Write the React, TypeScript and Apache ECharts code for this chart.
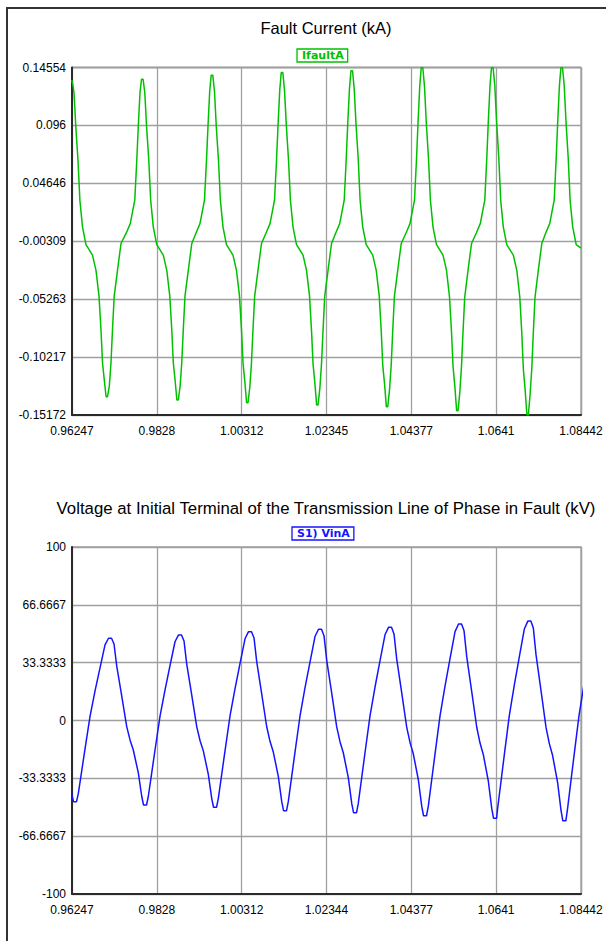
import React, { useEffect, useRef } from "react";
import * as echarts from "echarts";

// ---------- Tick labels ----------
const X_TICKS_TOP = ["0.96247", "0.9828", "1.00312", "1.02345", "1.04377", "1.0641", "1.08442"];
const X_TICKS_BOTTOM = ["0.96247", "0.9828", "1.00312", "1.02344", "1.04377", "1.0641", "1.08442"];
const Y_TICKS_TOP = ["-0.15172", "-0.10217", "-0.05263", "-0.00309", "0.04646", "0.096", "0.14554"];
const Y_TICKS_BOTTOM = ["-100", "-66.6667", "-33.3333", "0", "33.3333", "66.6667", "100"];

const X_MIN = 0.96247;
const X_MAX = 1.08442;
const Y1_MIN = -0.15172;
const Y1_MAX = 0.14554;
const Y2_MIN = -100;
const Y2_MAX = 100;

// ---------- Series: Fault current IfaultA (kA), [time s, value] ----------
const ifaultA: [number, number][] = [
  [0.9618, 0.124], [0.96216, 0.134], [0.96254, 0.134], [0.96295, 0.124], [0.96338, 0.095], [0.96391, 0.066],
  [0.96436, 0.032], [0.96499, 0.009], [0.96582, -0.006], [0.96738, -0.015], [0.96822, -0.028], [0.96894, -0.05],
  [0.96942, -0.079], [0.96978, -0.107], [0.97021, -0.122], [0.97064, -0.1361], [0.97098, -0.1361], [0.97141, -0.127],
  [0.97181, -0.107], [0.97217, -0.079], [0.97258, -0.05], [0.97337, -0.028], [0.97421, -0.005],

  [0.97548, 0.004], [0.97643, 0.012], [0.97751, 0.032], [0.97799, 0.066], [0.97835, 0.095], [0.97876, 0.124],
  [0.97912, 0.1355], [0.9795, 0.1355], [0.97991, 0.124], [0.98034, 0.095], [0.98087, 0.066], [0.98132, 0.032],
  [0.98195, 0.009], [0.98278, -0.006], [0.98434, -0.015], [0.98518, -0.028], [0.9859, -0.05], [0.98638, -0.079],
  [0.98674, -0.107], [0.98717, -0.122], [0.9876, -0.1389], [0.98794, -0.1389], [0.98837, -0.127], [0.98877, -0.107],
  [0.98913, -0.079], [0.98954, -0.05], [0.99033, -0.028], [0.99117, -0.005],

  [0.99218, 0.004], [0.99313, 0.012], [0.99421, 0.032], [0.99469, 0.066], [0.99505, 0.095], [0.99546, 0.125],
  [0.99582, 0.139], [0.9962, 0.139], [0.99661, 0.125], [0.99704, 0.095], [0.99757, 0.066], [0.99802, 0.032],
  [0.99865, 0.009], [0.99948, -0.006], [1.00104, -0.015], [1.00188, -0.028], [1.0026, -0.05], [1.00308, -0.079],
  [1.00344, -0.107], [1.00387, -0.123], [1.0043, -0.1412], [1.00464, -0.1412], [1.00507, -0.128], [1.00547, -0.107],
  [1.00583, -0.079], [1.00624, -0.05], [1.00703, -0.028], [1.00787, -0.005],

  [1.00896, 0.004], [1.00991, 0.012], [1.01099, 0.032], [1.01147, 0.066], [1.01183, 0.096], [1.01224, 0.126],
  [1.0126, 0.1412], [1.01298, 0.1412], [1.01339, 0.126], [1.01382, 0.096], [1.01435, 0.066], [1.0148, 0.032],
  [1.01543, 0.009], [1.01626, -0.006], [1.01782, -0.015], [1.01866, -0.028], [1.01938, -0.05], [1.01986, -0.08],
  [1.02022, -0.108], [1.02065, -0.124], [1.02108, -0.1432], [1.02142, -0.1432], [1.02185, -0.129], [1.02225, -0.108],
  [1.02261, -0.08], [1.02302, -0.05], [1.02381, -0.028], [1.02465, -0.005],

  [1.02566, 0.004], [1.02661, 0.012], [1.02769, 0.032], [1.02817, 0.067], [1.02853, 0.097], [1.02894, 0.127],
  [1.0293, 0.1428], [1.02968, 0.1428], [1.03009, 0.127], [1.03052, 0.097], [1.03105, 0.067], [1.0315, 0.032],
  [1.03213, 0.009], [1.03296, -0.006], [1.03452, -0.015], [1.03536, -0.028], [1.03608, -0.05], [1.03656, -0.08],
  [1.03692, -0.109], [1.03735, -0.125], [1.03778, -0.1446], [1.03812, -0.1446], [1.03855, -0.13], [1.03895, -0.109],
  [1.03931, -0.08], [1.03972, -0.05], [1.04051, -0.028], [1.04135, -0.005],

  [1.0425, 0.004], [1.04345, 0.012], [1.04453, 0.032], [1.04501, 0.067], [1.04537, 0.098], [1.04578, 0.129],
  [1.04614, 0.1455], [1.04652, 0.1455], [1.04693, 0.129], [1.04736, 0.098], [1.04789, 0.067], [1.04834, 0.032],
  [1.04897, 0.009], [1.0498, -0.006], [1.05136, -0.015], [1.0522, -0.028], [1.05292, -0.051], [1.0534, -0.081],
  [1.05376, -0.11], [1.05419, -0.127], [1.05462, -0.148], [1.05496, -0.148], [1.05539, -0.132], [1.05579, -0.11],
  [1.05615, -0.081], [1.05656, -0.051], [1.05735, -0.028], [1.05819, -0.005],

  [1.05934, 0.004], [1.06029, 0.012], [1.06137, 0.032], [1.06185, 0.068], [1.06221, 0.099], [1.06262, 0.13],
  [1.06298, 0.1455], [1.06336, 0.1455], [1.06377, 0.13], [1.0642, 0.099], [1.06473, 0.068], [1.06518, 0.032],
  [1.06581, 0.009], [1.06664, -0.006], [1.0682, -0.015], [1.06904, -0.028], [1.06976, -0.051], [1.07024, -0.082],
  [1.0706, -0.112], [1.07103, -0.13], [1.07146, -0.1517], [1.0718, -0.1517], [1.07223, -0.134], [1.07263, -0.112],
  [1.07299, -0.082], [1.0734, -0.051], [1.07419, -0.028], [1.07503, -0.005],

  [1.07597, 0.004], [1.07692, 0.012], [1.078, 0.032], [1.07848, 0.068], [1.07884, 0.099], [1.07925, 0.13],
  [1.07961, 0.1455], [1.07999, 0.1455], [1.0804, 0.13], [1.08083, 0.099], [1.08136, 0.068], [1.08181, 0.032],
  [1.08244, 0.009], [1.08327, -0.006], [1.08442, -0.009],
];

// ---------- Series: Voltage S1) VinA (kV), [time s, value] ----------
const vinA: [number, number][] = [
  [0.96158, -29.0], [0.9624, -42.1], [0.96283, -46.8], [0.96355, -46.8],

  [0.96398, -42.1], [0.9648, -29.0], [0.96559, -16.4], [0.96679, 2.4], [0.96799, 17.1], [0.96918, 30.3],
  [0.97038, 43.6], [0.97122, 47.4], [0.97194, 47.4], [0.97254, 44.1], [0.97319, 31.3], [0.97438, 14.2],
  [0.97558, -3.5], [0.97637, -11.2], [0.97716, -17.0], [0.97836, -30.2], [0.97918, -43.8], [0.97961, -48.7],
  [0.98033, -48.7],

  [0.98075, -43.8], [0.98157, -30.2], [0.98236, -17.0], [0.98356, 2.5], [0.98476, 17.7], [0.98595, 31.6],
  [0.98715, 45.4], [0.98799, 49.3], [0.98871, 49.3], [0.98931, 45.8], [0.98996, 32.5], [0.99115, 14.8],
  [0.99235, -3.5], [0.99314, -11.5], [0.99393, -17.5], [0.99513, -31.0], [0.99595, -45.0], [0.99638, -50.0],
  [0.9971, -50.0],

  [0.99752, -45.0], [0.99834, -31.0], [0.99913, -17.5], [1.00033, 2.6], [1.00153, 18.4], [1.00272, 32.8],
  [1.00392, 47.1], [1.00476, 51.2], [1.00548, 51.2], [1.00608, 47.6], [1.00673, 33.8], [1.00792, 15.4],
  [1.00912, -3.6], [1.00991, -12.0], [1.0107, -18.2], [1.0119, -32.2], [1.01272, -46.8], [1.01315, -52.0],
  [1.01387, -52.0],

  [1.01429, -46.8], [1.01511, -32.2], [1.0159, -18.2], [1.0171, 2.6], [1.0183, 18.9], [1.01949, 33.7],
  [1.02069, 48.4], [1.02153, 52.6], [1.02225, 52.6], [1.02285, 48.9], [1.0235, 34.7], [1.02469, 15.8],
  [1.02589, -3.7], [1.02668, -12.2], [1.02747, -18.6], [1.02867, -32.9], [1.02949, -47.8], [1.02992, -53.1],
  [1.03064, -53.1],

  [1.03106, -47.8], [1.03188, -32.9], [1.03267, -18.6], [1.03387, 2.7], [1.03507, 19.3], [1.03626, 34.4],
  [1.03746, 49.4], [1.0383, 53.7], [1.03902, 53.7], [1.03962, 49.9], [1.04027, 35.4], [1.04146, 16.1],
  [1.04266, -3.8], [1.04345, -12.6], [1.04424, -19.2], [1.04544, -34.0], [1.04626, -49.4], [1.04669, -54.9],
  [1.04741, -54.9],

  [1.04784, -49.4], [1.04866, -34.0], [1.04945, -19.2], [1.05065, 2.8], [1.05185, 20.0], [1.05304, 35.6],
  [1.05424, 51.2], [1.05508, 55.6], [1.0558, 55.6], [1.0564, 51.7], [1.05705, 36.7], [1.05824, 16.7],
  [1.05944, -3.9], [1.06023, -13.0], [1.06102, -19.7], [1.06222, -35.0], [1.06304, -50.8], [1.06347, -56.4],
  [1.06419, -56.4],

  [1.06444, -50.8], [1.06526, -35.0], [1.06605, -19.7], [1.06725, 2.9], [1.06845, 20.6], [1.06964, 36.7],
  [1.07084, 52.7], [1.07168, 57.3], [1.0724, 57.3], [1.073, 53.3], [1.07365, 37.8], [1.07484, 17.2],
  [1.07604, -4.0], [1.07683, -13.3], [1.07762, -20.2], [1.07882, -35.8], [1.07964, -52.0], [1.08007, -57.8],
  [1.08079, -57.8],

  [1.08114, -52.0], [1.08196, -35.8], [1.08275, -20.2], [1.08395, 3.0], [1.08515, 21.0],
];

const GREEN = "#00c000";
const BLUE = "#1414ff";
const GRID_COLOR = "#a0a0a0";
const AXIS_COLOR = "#2a2a2a";
const TICK_FONT = "Liberation Sans";

function makeXAxis(gridIndex: number, labels: string[]) {
  const interval = (X_MAX - X_MIN) / 6;
  return {
    type: "value",
    gridIndex,
    min: X_MIN,
    max: X_MAX,
    interval,
    axisLine: { show: true, onZero: false, lineStyle: { color: AXIS_COLOR, width: 2 } },
    axisTick: { show: false },
    splitLine: { show: true, lineStyle: { color: GRID_COLOR, width: 1.3 } },
    axisLabel: {
      margin: 10,
      color: "#000",
      fontFamily: TICK_FONT,
      fontSize: 12,
      showMinLabel: true,
      showMaxLabel: true,
      formatter: (v: number) => {
        const i = Math.round((v - X_MIN) / interval);
        return labels[i] ?? "";
      },
    },
  };
}

function makeYAxis(gridIndex: number, min: number, max: number, labels: string[]) {
  const interval = (max - min) / 6;
  return {
    type: "value",
    gridIndex,
    min,
    max,
    interval,
    axisLine: { show: true, onZero: false, lineStyle: { color: AXIS_COLOR, width: 2 } },
    axisTick: { show: false },
    splitLine: { show: true, lineStyle: { color: GRID_COLOR, width: 1.3 } },
    axisLabel: {
      margin: 6,
      color: "#000",
      fontFamily: TICK_FONT,
      fontSize: 12,
      showMinLabel: true,
      showMaxLabel: true,
      formatter: (v: number) => {
        const i = Math.round((v - min) / interval);
        return labels[i] ?? "";
      },
    },
  };
}

export default function App() {
  const ref = useRef<HTMLDivElement>(null);

  useEffect(() => {
    document.body.style.margin = "0";
    if (!ref.current) return;
    const chart = echarts.init(ref.current, undefined, { renderer: "svg" });
    chart.setOption({
      animation: false,
      backgroundColor: "#ffffff",
      title: [
        {
          text: "Fault Current (kA)",
          left: 326,
          top: 19,
          textAlign: "center",
          padding: 0,
          textStyle: { fontFamily: "Liberation Sans", fontSize: 16.5, fontWeight: "normal", color: "#000" },
        },
        {
          text: "Voltage at Initial Terminal of the Transmission Line of Phase in Fault (kV)",
          left: 326,
          top: 500,
          textAlign: "center",
          padding: 0,
          textStyle: { fontFamily: "Liberation Sans", fontSize: 16.8, fontWeight: "normal", color: "#000" },
        },
      ],
      legend: [
        {
          data: ["IfaultA"],
          left: 297,
          top: 49,
          icon: "rect",
          itemWidth: 0,
          itemHeight: 0,
          itemGap: 0,
          selectedMode: false,
          borderColor: GREEN,
          borderWidth: 1.3,
          borderRadius: 0,
          padding: [1, 4, 1, 0],
          textStyle: { color: GREEN, fontFamily: "DejaVu Sans", fontSize: 11, fontWeight: "bold" },
        },
        {
          data: ["S1) VinA"],
          left: 292,
          top: 527,
          icon: "rect",
          itemWidth: 0,
          itemHeight: 0,
          itemGap: 0,
          selectedMode: false,
          borderColor: BLUE,
          borderWidth: 1.3,
          borderRadius: 0,
          padding: [1, 4, 1, 0],
          textStyle: { color: BLUE, fontFamily: "DejaVu Sans", fontSize: 11, fontWeight: "bold" },
        },
      ],
      grid: [
        { left: 72, right: 25, top: 67.5, height: 347.5, show: true, borderColor: GRID_COLOR, borderWidth: 1.3 },
        { left: 72, right: 25, top: 547, height: 347, show: true, borderColor: GRID_COLOR, borderWidth: 1.3 },
      ],
      xAxis: [makeXAxis(0, X_TICKS_TOP), makeXAxis(1, X_TICKS_BOTTOM)],
      yAxis: [makeYAxis(0, Y1_MIN, Y1_MAX, Y_TICKS_TOP), makeYAxis(1, Y2_MIN, Y2_MAX, Y_TICKS_BOTTOM)],
      graphic: [
        {
          type: "polyline",
          shape: { points: [[7, 941], [7, 8], [606, 8]] },
          style: { stroke: "#333", lineWidth: 2, fill: "none" },
          silent: true,
        },
      ],
      series: [
        {
          name: "IfaultA",
          type: "line",
          xAxisIndex: 0,
          yAxisIndex: 0,
          data: ifaultA,
          showSymbol: false,
          clip: true,
          color: GREEN,
          lineStyle: { color: GREEN, width: 1.5 },
        },
        {
          name: "S1) VinA",
          type: "line",
          xAxisIndex: 1,
          yAxisIndex: 1,
          data: vinA,
          showSymbol: false,
          clip: true,
          color: BLUE,
          lineStyle: { color: BLUE, width: 1.5 },
        },
      ],
    });
    return () => chart.dispose();
  }, []);

  return <div ref={ref} style={{ width: 606, height: 941 }} />;
}
